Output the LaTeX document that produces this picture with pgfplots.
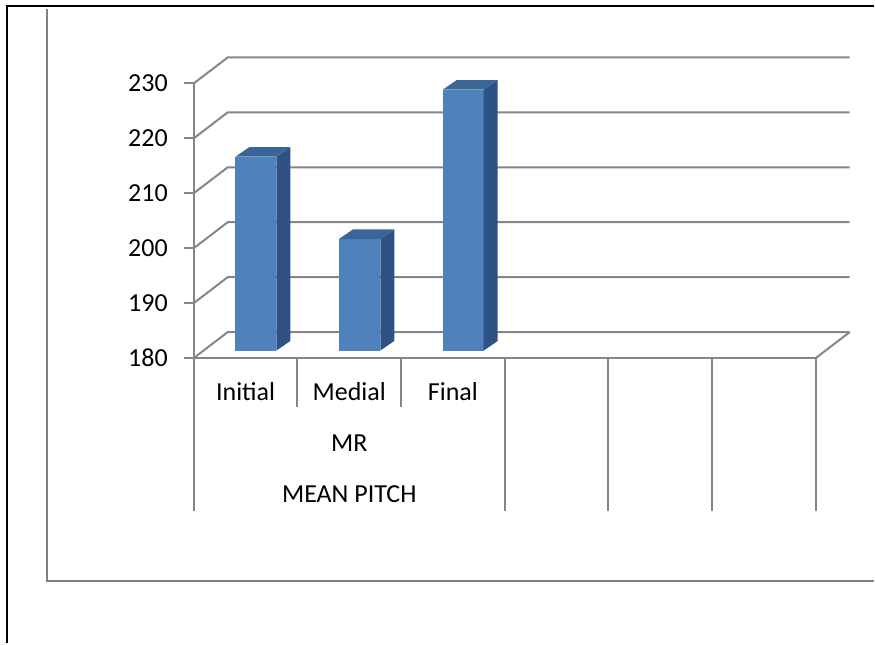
\documentclass[border=0pt]{standalone}
\usepackage{pgfplots}
\pgfplotsset{compat=1.18}
\usepackage{fontspec}
\setmainfont{Carlito}
\definecolor{gridgray}{HTML}{868686}
\definecolor{framegray}{HTML}{808080}
\definecolor{barfront}{HTML}{4F81BD}
\definecolor{barside}{HTML}{2E5283}
\definecolor{bartop}{HTML}{3A6597}
\tikzset{lbl/.style={font=\fontsize{13}{15}\selectfont, inner sep=0pt}}
\begin{document}
\begin{tikzpicture}
\begin{axis}[
  x=51.9pt, y=2.75pt,
  xmin=0, xmax=6, ymin=180, ymax=230,
  clip=false,
  axis y line*=left, axis x line*=bottom,
  axis line style={draw=gridgray, line width=1pt},
  xtick=\empty,
  ytick={180,190,...,230},
  tick align=outside,
  major tick length=5pt,
  tick style={draw=gridgray, line width=1pt},
  yticklabel style={font=\fontsize{13}{15}\selectfont, xshift=-4.5pt},
  /pgf/number format/assume math mode=true,
]
% picture extent (875 x 644 px)
\path (axis cs:-1.869,128.09) rectangle (axis cs:6.5607,245.18);
% outer borders
\draw[black, line width=1.1pt] (axis cs:-1.8015,128.09) -- (axis cs:-1.8015,244.09) -- (axis cs:6.5607,244.09);
\draw[framegray, line width=1pt] (axis cs:-1.4162,243.6) -- (axis cs:-1.4162,139.36) -- (axis cs:6.5607,139.36);
% back wall grid and side diagonals
\pgfplotsinvokeforeach{180,190,200,210,220,230}{
  \draw[gridgray, line width=1pt] (axis cs:0,#1) -- (axis cs:0.3276,{#1+4.727}) -- (axis cs:6.3276,{#1+4.727});
}
\draw[gridgray, line width=1pt] (axis cs:6,180) -- (axis cs:6.3276,184.727);
% category dividers
\pgfplotsinvokeforeach{0,3,4,5,6}{
  \draw[gridgray, line width=1pt] (axis cs:#1,180) -- (axis cs:#1,152.1);
}
\pgfplotsinvokeforeach{1,2}{
  \draw[gridgray, line width=1pt] (axis cs:#1,180) -- (axis cs:#1,171);
}
% bars: Initial 215.3, Medial 200.3, Final 227.5 (front face drawn at depth offset +1.36)
% Initial
\addplot[fill=barfront, draw=none] coordinates {(0.402,181.36) (0.797,181.36) (0.797,216.66) (0.402,216.66)} -- cycle;
\addplot[fill=barside, draw=none] coordinates {(0.797,181.36) (0.932,183.11) (0.932,218.41) (0.797,216.66)} -- cycle;
\addplot[fill=bartop, draw=none] coordinates {(0.402,216.66) (0.797,216.66) (0.932,218.41) (0.537,218.41)} -- cycle;
% Medial
\addplot[fill=barfront, draw=none] coordinates {(1.400,181.36) (1.799,181.36) (1.799,201.66) (1.400,201.66)} -- cycle;
\addplot[fill=barside, draw=none] coordinates {(1.799,181.36) (1.934,183.11) (1.934,203.41) (1.799,201.66)} -- cycle;
\addplot[fill=bartop, draw=none] coordinates {(1.400,201.66) (1.799,201.66) (1.934,203.41) (1.535,203.41)} -- cycle;
% Final
\addplot[fill=barfront, draw=none] coordinates {(2.402,181.36) (2.797,181.36) (2.797,228.86) (2.402,228.86)} -- cycle;
\addplot[fill=barside, draw=none] coordinates {(2.797,181.36) (2.932,183.11) (2.932,230.61) (2.797,228.86)} -- cycle;
\addplot[fill=bartop, draw=none] coordinates {(2.402,228.86) (2.797,228.86) (2.932,230.61) (2.537,230.61)} -- cycle;
% category labels
\node[lbl] at (axis cs:0.5,173.9) {Initial};
\node[lbl] at (axis cs:1.5,173.9) {Medial};
\node[lbl] at (axis cs:2.5,173.9) {Final};
\node[lbl] at (axis cs:1.5,164.45) {MR};
\node[lbl] at (axis cs:1.5,155.2) {MEAN PITCH};
\end{axis}
\end{tikzpicture}
\end{document}
